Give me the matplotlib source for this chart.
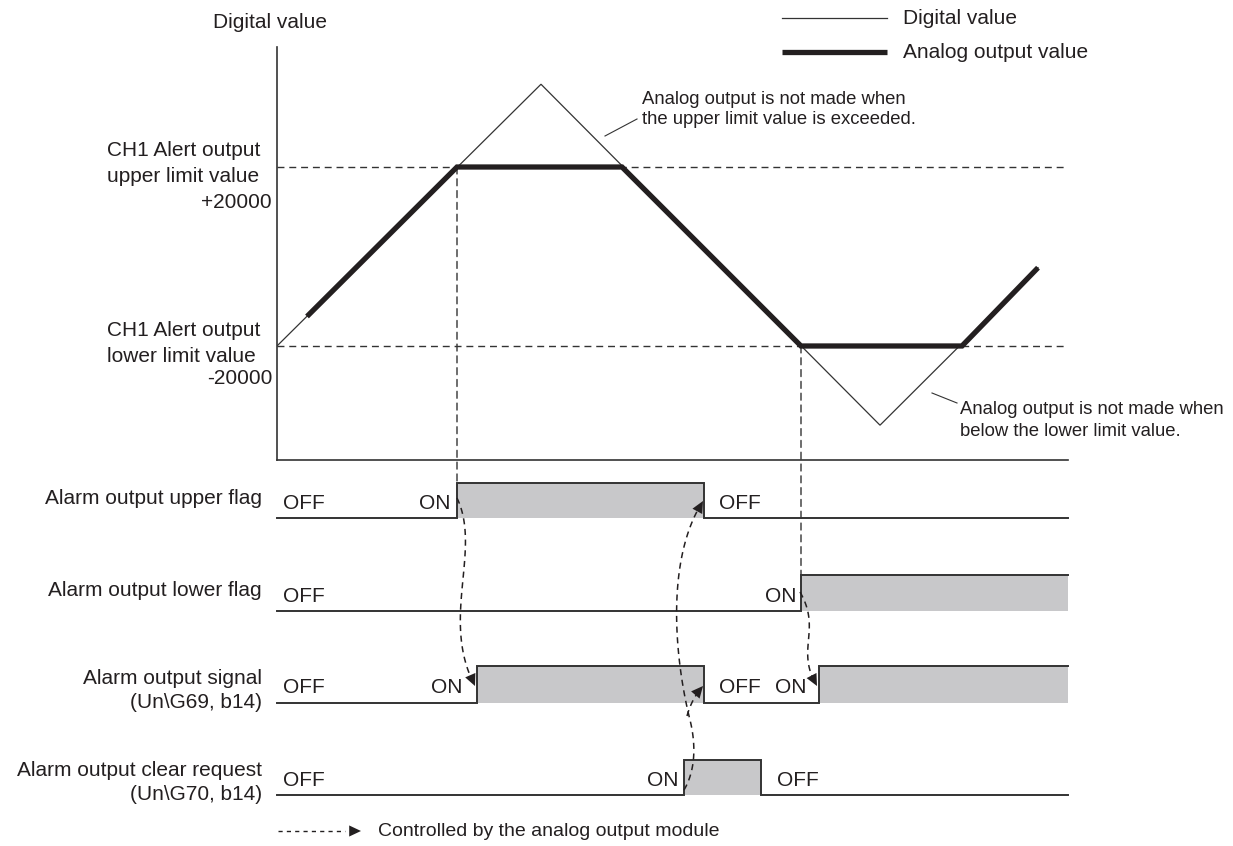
import numpy as np
import matplotlib
matplotlib.use("Agg")
import matplotlib.pyplot as plt
from matplotlib.patches import ConnectionPatch

plt.rcParams['font.family'] = ['Liberation Sans', 'DejaVu Sans']

# ---------------- data ----------------
digital_t = [0, 264, 603, 761]
digital_v = [-20000, 38500, -37700, -2500]
analog_t = [30, 180, 345, 524, 685, 761]
analog_v = [-13400, 20000, 20000, -20000, -20000, -2500]
upper_limit = 20000
lower_limit = -20000
t_end = 791

upper_flag_edges = [(180, 427)]
lower_flag_edges = [(524, None)]
alarm_signal_edges = [(200, 427), (542, None)]
clear_request_edges = [(407, 484)]

signal_names = ["Alarm output upper flag",
                "Alarm output lower flag",
                "Alarm output signal\n(Un\\G69, b14)",
                "Alarm output clear request\n(Un\\G70, b14)"]
state_labels = [
    [("OFF", 6, "left"), ("ON", 173, "right"), ("OFF", 442, "left")],
    [("OFF", 6, "left"), ("ON", 520, "right")],
    [("OFF", 6, "left"), ("ON", 185, "right"), ("OFF", 442, "left"), ("ON", 529, "right")],
    [("OFF", 6, "left"), ("ON", 401, "right"), ("OFF", 500, "left")],
]

# ---------------- layout ----------------
W, H, DPI = 1233, 846, 100
T0 = 277                      # pixel column of time origin
def X(p):
    return p - T0

TXT = '#231f20'
LINE = '#333333'
GRAY = '#c8c8ca'
FS = 15
FS_S = 13.3

fig = plt.figure(figsize=(W / DPI, H / DPI), dpi=DPI)
ax = fig.add_axes([0, 0, 1, 1])
ax.set_xlim(-T0, W - T0)
ax.set_ylim(H, 0)
ax.axis('off')

# analog/digital panel
y_top_px, y_bot_px = 47, 460
axA = fig.add_axes([T0 / W, (H - y_bot_px) / H, t_end / W, (y_bot_px - y_top_px) / H])
axA.patch.set_alpha(0)
axA.set_xlim(0, t_end)
axA.set_ylim(-45480, 46820)
for s in ['top', 'right']:
    axA.spines[s].set_visible(False)
for s in ['left', 'bottom']:
    axA.spines[s].set_color(LINE)
    axA.spines[s].set_linewidth(1.2)
axA.set_xticks([])
axA.set_yticks([])

for lim in (upper_limit, lower_limit):
    axA.plot([0, t_end], [lim, lim], color=LINE, lw=1.0, ls=(0, (5, 3.5)))
axA.plot(digital_t, digital_v, color=LINE, lw=0.9, solid_joinstyle='miter')
axA.plot(analog_t, analog_v, color='#231f20', lw=3.8, solid_joinstyle='miter',
         solid_capstyle='butt')

# axis labels
ax.text(X(270), 23, "Digital value", fontsize=FS, color=TXT, ha='center', va='center')
ax.text(X(107), 151, "CH1 Alert output", fontsize=FS, color=TXT, ha='left', va='center')
ax.text(X(107), 176, "upper limit value", fontsize=FS, color=TXT, ha='left', va='center')
ax.text(X(272), 203, "+%d" % upper_limit, fontsize=FS, color=TXT, ha='right', va='center')
ax.text(X(107), 330, "CH1 Alert output", fontsize=FS, color=TXT, ha='left', va='center')
ax.text(X(107), 356, "lower limit value", fontsize=FS, color=TXT, ha='left', va='center')
ax.text(X(272), 379, "%d" % lower_limit, fontsize=FS, color=TXT, ha='right', va='center')

# annotations
ax.text(X(642), 99, "Analog output is not made when", fontsize=FS_S, color=TXT, va='center')
ax.text(X(642), 120, "the upper limit value is exceeded.", fontsize=FS_S, color=TXT, va='center')
ax.plot([X(605), X(637)], [136, 119], color=LINE, lw=0.8)
ax.text(X(960), 409, "Analog output is not made when", fontsize=FS_S, color=TXT, va='center')
ax.text(X(960), 432, "below the lower limit value.", fontsize=FS_S, color=TXT, va='center')
ax.plot([X(932), X(957)], [393, 403], color=LINE, lw=0.8)

# legend (top right)
ax.plot([X(782), X(887)], [18, 18], color=LINE, lw=0.9)
ax.text(X(903), 18, "Digital value", fontsize=FS, color=TXT, va='center')
ax.plot([X(782), X(887)], [52, 52], color='#231f20', lw=3.8, solid_capstyle='butt')
ax.text(X(903), 52, "Analog output value", fontsize=FS, color=TXT, va='center')

# ---------------- timing signals ----------------
rows_low = [518, 611, 703, 795]
rows_high = [483, 575, 666, 760]
all_edges = [upper_flag_edges, lower_flag_edges, alarm_signal_edges, clear_request_edges]

for i, edges in enumerate(all_edges):
    lo, hi = rows_low[i], rows_high[i]
    xs, ys = [0], [lo]
    for on, off in edges:
        xs += [on, on]
        ys += [lo, hi]
        end = t_end if off is None else off
        ax.fill_between([on, end], lo, hi, color=GRAY, lw=0, zorder=1)
        if off is None:
            xs += [t_end]
            ys += [hi]
        else:
            xs += [off, off]
            ys += [hi, lo]
    if xs[-1] != t_end:
        xs.append(t_end)
        ys.append(lo)
    ax.plot(xs, ys, color=LINE, lw=1.4, solid_joinstyle='miter', zorder=2)
    for txt, t, ha in state_labels[i]:
        ax.text(t, (lo + hi) / 2 + 3, txt, fontsize=FS, color=TXT, ha=ha, va='center')

# signal names
name_y = [[499], [590], [679, 703], [770, 795]]
for name, ys_ in zip(signal_names, name_y):
    for line, y in zip(name.split("\n"), ys_):
        ax.text(X(262), y, line, fontsize=FS, color=TXT, ha='right', va='center')

# vertical dashed links from limit crossings to flag edges
for t, v, y in [(upper_flag_edges[0][0], upper_limit, rows_high[0]),
                (lower_flag_edges[0][0], lower_limit, rows_high[1])]:
    cp = ConnectionPatch(xyA=(t, v), coordsA=axA.transData, xyB=(t, y), coordsB=ax.transData,
                         color=LINE, lw=1.0, ls=(0, (5, 3.5)))
    ax.add_artist(cp)

# curved dashed arrows
def bez(p0, p1, p2, p3, n=60):
    s = np.linspace(0, 1, n)[:, None]
    P = [np.array(p, float) for p in (p0, p1, p2, p3)]
    return ((1 - s) ** 3) * P[0] + 3 * ((1 - s) ** 2) * s * P[1] + 3 * (1 - s) * s ** 2 * P[2] + s ** 3 * P[3]

def dashed_curve(segs, head=True):
    pts = np.vstack([bez(*[(X(a), b) for a, b in seg]) for seg in segs])
    ax.plot(pts[:-3, 0], pts[:-3, 1], color='#231f20', lw=1.1, ls=(0, (4, 3)), zorder=4)
    if head:
        tip = pts[-1]
        back = pts[-6]
        ax.annotate('', xy=tip, xytext=back,
                    arrowprops=dict(arrowstyle='-|>,head_length=0.85,head_width=0.4',
                                    color='#231f20', lw=0, shrinkA=0, shrinkB=0), zorder=5)

dashed_curve([[(457, 498), (482, 550), (440, 620), (475, 686)]])
dashed_curve([[(800, 592), (822, 630), (795, 650), (817, 686)]])
dashed_curve([[(684, 790), (697, 768), (695, 740), (690, 720)],
              [(690, 720), (675, 660), (665, 560), (703, 501)]])
dashed_curve([[(687, 716), (690, 705), (695, 695), (703, 686)]])

# bottom legend
ax.plot([X(278), X(345)], [831, 831], color='#231f20', lw=1.0, ls=(0, (3, 3)))
ax.annotate('', xy=(X(361), 831), xytext=(X(346), 831),
            arrowprops=dict(arrowstyle='-|>,head_length=0.85,head_width=0.4',
                            color='#231f20', lw=0, shrinkA=0, shrinkB=0))
ax.text(X(378), 831, "Controlled by the analog output module", fontsize=14, color=TXT, va='center')

fig.savefig("out.png", dpi=DPI)
